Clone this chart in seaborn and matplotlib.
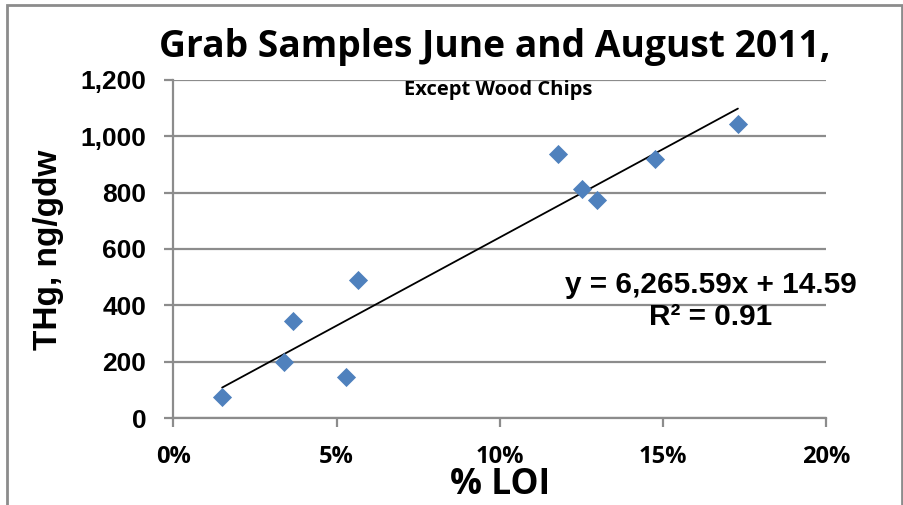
import numpy as np
import pandas as pd
import matplotlib
matplotlib.use("Agg")
import matplotlib.pyplot as plt
from matplotlib.patches import Rectangle
import seaborn as sns

# data
loi = [0.0149, 0.0339, 0.0367, 0.0530, 0.0564, 0.1180, 0.1252, 0.1297, 0.1475, 0.1730]
thg = [75, 199, 344, 145, 490, 937, 813, 774, 918, 1043]
slope = 6265.59
intercept = 14.59
r2 = 0.91
xticks = [0, 0.05, 0.10, 0.15, 0.20]
xlabels = ["0%", "5%", "10%", "15%", "20%"]
yticks = [0, 200, 400, 600, 800, 1000, 1200]
ylabels = ["0", "200", "400", "600", "800", "1,000", "1,200"]

sns.set_theme(style="white")
plt.rcParams['font.family'] = ['Liberation Sans', 'DejaVu Sans']
plt.rcParams['text.color'] = 'black'

blue = "#4F81BD"
grey = "#8c8c8c"
calib = ['Open Sans', 'DejaVu Sans']
arial = ['Liberation Sans', 'DejaVu Sans']

fig = plt.figure(figsize=(9.04, 5.05), dpi=100)
ax = fig.add_axes([173.5 / 904, 87 / 505, (826 - 173.5) / 904, (418 - 80) / 505])

df = pd.DataFrame({"loi": loi, "thg": thg})
trend = pd.DataFrame({"loi": [min(loi), max(loi)]})
trend["thg"] = slope * trend["loi"] + intercept

sns.lineplot(data=trend, x="loi", y="thg", color="black", lw=1.3, ax=ax)
sns.scatterplot(data=df, x="loi", y="thg", marker="D", s=95, color=blue,
                edgecolor=blue, linewidth=0, ax=ax, zorder=3)

ax.set_xlim(0, 0.2)
ax.set_ylim(0, 1200)
ax.set_xticks(xticks, labels=xlabels, fontfamily=calib, fontweight="bold", fontsize=17)
ax.set_yticks(yticks, labels=ylabels, fontfamily=arial, fontweight="bold", fontsize=19)
ax.set_xlabel("")
ax.set_ylabel("")
ax.yaxis.grid(True, color=grey, lw=1.6)
ax.xaxis.grid(False)
for s in ["top", "right"]:
    ax.spines[s].set_visible(False)
for s in ["left", "bottom"]:
    ax.spines[s].set_color(grey)
    ax.spines[s].set_linewidth(1.6)
ax.tick_params(axis="x", bottom=True, length=6.5, width=1.6, color=grey, pad=13, labelcolor="black")
ax.tick_params(axis="y", left=True, length=6.5, width=1.6, color=grey, pad=13, labelcolor="black")

fig.text(495 / 904, 1 - 57 / 505, "Grab Samples June and August 2011,", ha="center", va="baseline",
         fontfamily=calib, fontweight="bold", fontsize=26.8, color="black")
fig.text(498 / 904, 1 - 95 / 505, "Except Wood Chips", ha="center", va="baseline",
         fontfamily=calib, fontweight="bold", fontsize=14.5, color="black")
fig.text(49 / 904, 1 - 250 / 505, "THg, ng/gdw", ha="center", va="center", rotation=90,
         fontfamily=arial, fontweight="bold", fontsize=24, color="black")
fig.text(500 / 904, 1 - 494 / 505, "% LOI", ha="center", va="baseline",
         fontfamily=calib, fontweight="bold", fontsize=25.5, color="black")
fig.text(711 / 904, 1 - 293 / 505, f"y = {slope:,.2f}x + {intercept:.2f}", ha="center", va="baseline",
         fontfamily=arial, fontweight="bold", fontsize=21.4, color="black")
fig.text(711 / 904, 1 - 325 / 505, f"R² = {r2:.2f}", ha="center", va="baseline",
         fontfamily=arial, fontweight="bold", fontsize=21.4, color="black")

fig.patches.append(Rectangle((7 / 904, -0.1), 895 / 904, 1.1 - 5 / 505, transform=fig.transFigure,
                             fill=False, edgecolor=grey, lw=2))

fig.savefig("out.png", dpi=100)
